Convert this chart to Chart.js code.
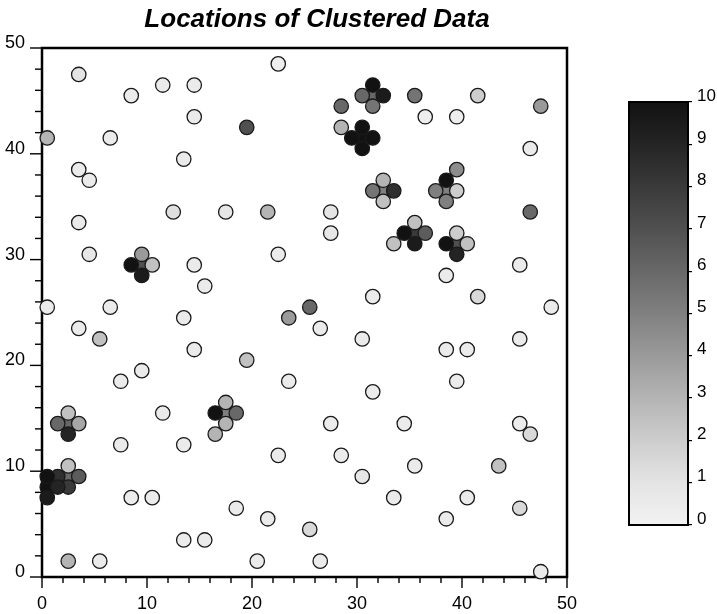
<!DOCTYPE html>
<html>
<head>
<meta charset="utf-8">
<script src="https://cdn.jsdelivr.net/npm/chart.js@4.4.0/dist/chart.umd.min.js"></script>
<style>
  html, body { margin: 0; padding: 0; background: #fff; }
  #wrap { position: relative; width: 717px; height: 614px; overflow: hidden; }
  #main { position: absolute; left: 0; top: 0; }
  #cbar { position: absolute; left: 600px; top: 0; }
</style>
</head>
<body>
<div id="wrap">
  <canvas id="main" width="600" height="614"></canvas>
  <canvas id="cbar" width="117" height="614"></canvas>
</div>
<script>
// ---- data ----
const chartTitle = 'Locations of Clustered Data';
const axisTickLabels = [0, 10, 20, 30, 40, 50];
const colorbarTicks = [0, 1, 2, 3, 4, 5, 6, 7, 8, 9, 10];

const xValues = [
  3.5, 8.5, 11.5, 14.5, 14.5, 0.5, 6.5, 19.5, 13.5, 3.5, 4.5, 12.5, 17.5, 3.5, 22.5,
  31.5, 31.5, 30.5, 32.5, 31.5,
  28.5, 35.5, 36.5, 39.5, 41.5, 28.5,
  30.5, 30.5, 29.5, 31.5, 30.5,
  32.5, 32.5, 31.5, 33.5, 32.5,
  38.5, 39.5, 38.5, 37.5, 39.5, 38.5,
  21.5, 27.5, 47.5, 46.5, 46.5, 4.5,
  9.5, 9.5, 8.5, 10.5, 9.5,
  14.5, 15.5, 0.5, 6.5, 13.5, 3.5, 5.5, 14.5, 19.5, 9.5, 7.5, 11.5,
  17.5, 17.5, 16.5, 18.5, 17.5, 16.5,
  2.5, 2.5, 1.5, 3.5, 2.5,
  27.5, 22.5,
  35.5, 35.5, 34.5, 36.5, 35.5, 33.5,
  39.5, 39.5, 38.5, 40.5, 39.5,
  38.5, 41.5, 31.5, 25.5, 23.5, 26.5, 30.5, 38.5, 40.5, 23.5, 31.5, 39.5, 45.5, 48.5, 45.5,
  34.5, 45.5, 46.5, 35.5, 43.5, 40.5, 33.5, 38.5, 45.5, 47.5,
  27.5, 22.5, 28.5, 30.5, 18.5, 21.5, 25.5, 20.5, 26.5, 7.5, 13.5,
  2.5, 2.5, 3.5, 2.5, 1.5,
  0.5, 0.5, 1.5, 0.5,
  8.5, 10.5, 13.5, 15.5, 2.5, 5.5
];
const yValues = [
  47.5, 45.5, 46.5, 46.5, 43.5, 41.5, 41.5, 42.5, 39.5, 38.5, 37.5, 34.5, 34.5, 33.5, 48.5,
  45.5, 46.5, 45.5, 45.5, 44.5,
  44.5, 45.5, 43.5, 43.5, 45.5, 42.5,
  41.5, 42.5, 41.5, 41.5, 40.5,
  36.5, 37.5, 36.5, 36.5, 35.5,
  36.5, 38.5, 37.5, 36.5, 36.5, 35.5,
  34.5, 34.5, 44.5, 40.5, 34.5, 30.5,
  29.5, 30.5, 29.5, 29.5, 28.5,
  29.5, 27.5, 25.5, 25.5, 24.5, 23.5, 22.5, 21.5, 20.5, 19.5, 18.5, 15.5,
  15.5, 16.5, 15.5, 15.5, 14.5, 13.5,
  14.5, 15.5, 14.5, 14.5, 13.5,
  32.5, 30.5,
  32.5, 33.5, 32.5, 32.5, 31.5, 31.5,
  31.5, 32.5, 31.5, 31.5, 30.5,
  28.5, 26.5, 26.5, 25.5, 24.5, 23.5, 22.5, 21.5, 21.5, 18.5, 17.5, 18.5, 29.5, 25.5, 22.5,
  14.5, 14.5, 13.5, 10.5, 10.5, 7.5, 7.5, 5.5, 6.5, 0.5,
  14.5, 11.5, 11.5, 9.5, 6.5, 5.5, 4.5, 1.5, 1.5, 12.5, 12.5,
  9.5, 10.5, 9.5, 8.5, 9.5,
  8.5, 9.5, 8.5, 7.5,
  7.5, 7.5, 3.5, 3.5, 1.5, 1.5
];
const zValues = [
  1.0, 0.5, 0.5, 0.5, 0.5, 3.0, 0.5, 7.0, 0.5, 0.5, 0.5, 1.2, 0.8, 0.5, 0.3,
  6.0, 10, 6.0, 9.5, 5.5,
  6.0, 5.5, 0.3, 0.3, 2.0, 3.0,
  10, 10, 10, 10, 10,
  5.0, 3.0, 5.5, 8.5, 2.5,
  5.0, 4.5, 10, 5.0, 2.0, 5.0,
  3.0, 1.0, 4.0, 0.5, 6.0, 0.8,
  7.0, 4.0, 10, 2.5, 9.5,
  0.5, 0.5, 0.5, 0.5, 0.5, 0.5, 2.5, 0.5, 2.5, 0.5, 0.5, 0.5,
  5.0, 3.0, 10, 6.0, 3.0, 3.0,
  6.0, 2.5, 6.0, 3.5, 9.0,
  0.8, 0.5,
  8.0, 2.5, 10, 6.5, 9.5, 2.5,
  7.0, 2.0, 10, 2.5, 9.0,
  0.5, 1.5, 0.5, 6.0, 4.0, 0.5, 0.5, 0.5, 0.5, 0.5, 0.5, 0.5, 0.5, 0.5, 0.5,
  0.5, 0.5, 1.5, 0.5, 2.5, 0.5, 0.5, 0.5, 1.5, 0.5,
  0.5, 0.5, 0.5, 0.8, 0.5, 0.5, 1.5, 0.5, 0.5, 0.5, 0.5,
  6.0, 2.5, 6.5, 8.0, 8.5,
  10, 10, 9.0, 9.5,
  0.5, 0.5, 0.5, 0.5, 3.0, 0.5
];

// ---- grayscale colour map (value 0..10 -> gray level) ----
const grayLevels = [242, 228, 205, 180, 154, 128, 104, 80, 58, 36, 18];
function grayFor(v) {
  const c = Math.max(0, Math.min(10, v));
  const i = Math.min(9, Math.floor(c));
  const t = c - i;
  const g = Math.round(grayLevels[i] + (grayLevels[i + 1] - grayLevels[i]) * t);
  return 'rgb(' + g + ',' + g + ',' + g + ')';
}

Chart.defaults.font.family = "'Liberation Sans', Arial, Helvetica, sans-serif";
Chart.defaults.color = '#000';

const points = xValues.map((x, i) => ({ x: x, y: yValues[i] }));

const framePlugin = {
  id: 'frame',
  beforeDatasetsDraw(chart) {
    const { ctx, chartArea: a, scales } = chart;
    ctx.save();
    ctx.strokeStyle = '#000';
    ctx.lineWidth = 1.4;
    scales.x.ticks.forEach(t => {
      const len = axisTickLabels.includes(t.value) ? 11 : 6;
      const px = scales.x.getPixelForValue(t.value);
      ctx.beginPath(); ctx.moveTo(px, a.bottom); ctx.lineTo(px, a.bottom + len); ctx.stroke();
    });
    scales.y.ticks.forEach(t => {
      const len = axisTickLabels.includes(t.value) ? 12 : 7;
      const py = scales.y.getPixelForValue(t.value);
      ctx.beginPath(); ctx.moveTo(a.left, py); ctx.lineTo(a.left - len, py); ctx.stroke();
    });
    ctx.lineWidth = 2.5;
    ctx.strokeRect(a.left, a.top, a.right - a.left, a.bottom - a.top);
    ctx.restore();
  },
  afterLayout(chart) {
    const tb = chart.titleBlock;
    if (tb) {
      const shift = 317 - (tb.left + tb.right) / 2;
      tb.left += shift; tb.right += shift;
    }
  }
};

new Chart(document.getElementById('main'), {
  type: 'scatter',
  data: {
    datasets: [{
      data: points,
      pointRadius: 7.2,
      pointHoverRadius: 7.2,
      borderWidth: 1.3,
      borderColor: '#1a1a1a',
      backgroundColor: ctx => grayFor(zValues[ctx.dataIndex]),
      clip: false
    }]
  },
  options: {
    responsive: false,
    animation: false,
    events: [],
    layout: { padding: { left: 0, right: 33, top: 0, bottom: 0 } },
    plugins: {
      legend: { display: false },
      tooltip: { enabled: false },
      title: {
        display: true,
        text: chartTitle,
        color: '#000',
        font: { size: 26, weight: 'bold', style: 'italic' },
        padding: { top: 4, bottom: 12.8 }
      }
    },
    scales: {
      x: {
        type: 'linear', min: 0, max: 50,
        ticks: {
          stepSize: 2, autoSkip: false, maxRotation: 0,
          callback: v => axisTickLabels.includes(v) ? String(v) : '',
          font: { size: 18 }, color: '#000', padding: 6
        },
        grid: { drawOnChartArea: false, drawTicks: true, tickLength: 10, color: 'rgba(0,0,0,0)' },
        border: { display: false },
        afterFit: s => { s.height = 37; }
      },
      y: {
        type: 'linear', min: 0, max: 50,
        ticks: {
          stepSize: 2, autoSkip: false,
          callback: v => axisTickLabels.includes(v) ? String(v) : '',
          font: { size: 18 }, color: '#000', padding: 5, labelOffset: -5
        },
        grid: { drawOnChartArea: false, drawTicks: true, tickLength: 12, color: 'rgba(0,0,0,0)' },
        border: { display: false },
        afterFit: s => { s.width = 42; }
      }
    }
  },
  plugins: [framePlugin]
});

const gradientPlugin = {
  id: 'gradientBar',
  beforeDatasetsDraw(chart) {
    const { ctx, chartArea: a, scales: { y } } = chart;
    const y0 = y.getPixelForValue(colorbarTicks[0]);
    const y1 = y.getPixelForValue(colorbarTicks[colorbarTicks.length - 1]);
    const g = ctx.createLinearGradient(0, y0, 0, y1);
    colorbarTicks.forEach(v => g.addColorStop(v / 10, grayFor(v)));
    ctx.save();
    ctx.fillStyle = g;
    ctx.fillRect(a.left, a.top, a.right - a.left, a.bottom - a.top);
    ctx.strokeStyle = '#000';
    ctx.lineWidth = 2;
    ctx.strokeRect(a.left, a.top, a.right - a.left, a.bottom - a.top);
    ctx.restore();
  }
};

new Chart(document.getElementById('cbar'), {
  type: 'scatter',
  data: { datasets: [] },
  options: {
    responsive: false,
    animation: false,
    events: [],
    layout: { padding: { left: 29, right: 0, top: 102, bottom: 89 } },
    plugins: { legend: { display: false }, tooltip: { enabled: false }, title: { display: false } },
    scales: {
      x: { display: false, min: 0, max: 1 },
      y: {
        position: 'right', min: 0, max: 10,
        ticks: {
          stepSize: 1, autoSkip: false,
          callback: v => colorbarTicks.includes(v) ? String(v) : '',
          font: { size: 17 }, color: '#000', padding: 5, labelOffset: -6
        },
        grid: { drawOnChartArea: false, drawTicks: true, tickLength: 4, color: '#000', lineWidth: 1.2 },
        border: { display: false },
        afterFit: s => { s.width = 29; }
      }
    }
  },
  plugins: [gradientPlugin]
});
</script>
</body>
</html>
